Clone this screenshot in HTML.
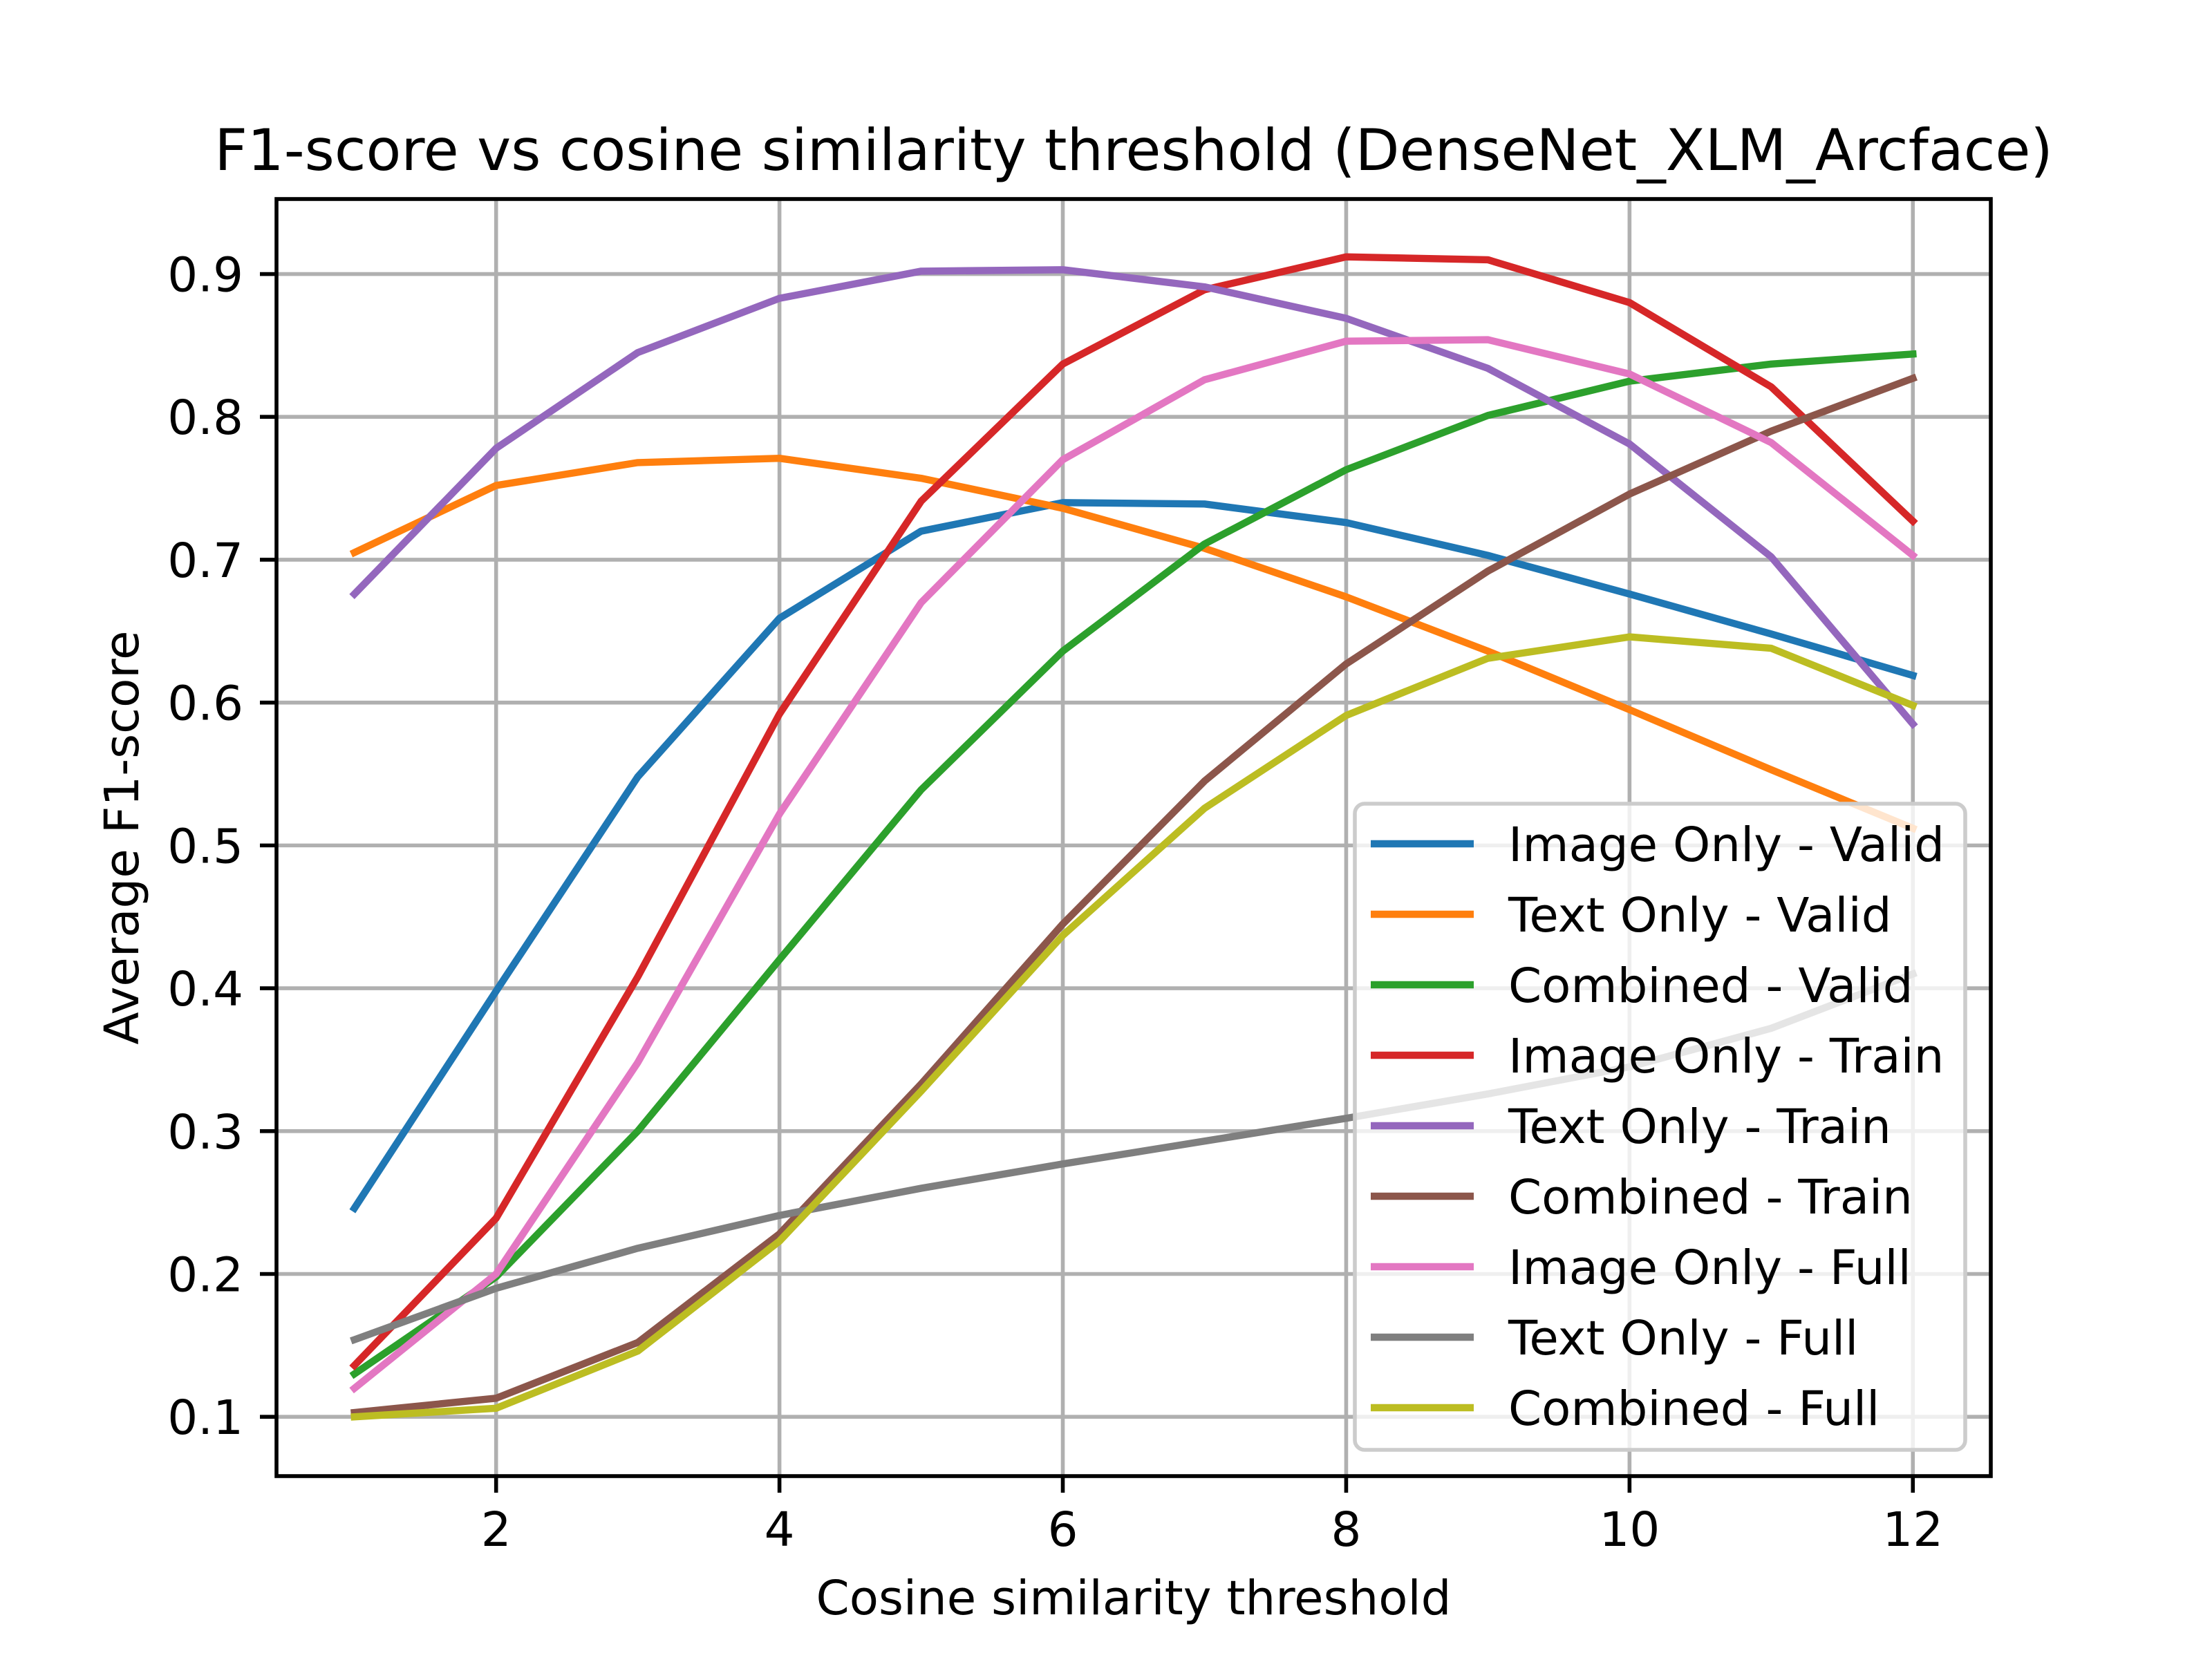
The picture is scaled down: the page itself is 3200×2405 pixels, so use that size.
<!DOCTYPE html>
<html><head><meta charset="utf-8"><style>
html,body{margin:0;padding:0;background:#fff;}
svg text{font-family:"DejaVu Sans","Liberation Sans",sans-serif;fill:#000;}
</style></head><body>
<svg id="chart" width="3200" height="2400" viewBox="0 0 3200 2400" xmlns="http://www.w3.org/2000/svg">
<rect x="0" y="0" width="3200" height="2400" fill="#fff"/>
<g id="grid"></g>
<g id="series"></g>
<rect x="400" y="288" width="2480" height="1848" fill="none" stroke="#000" stroke-width="5.6"/>
<g id="ticks"></g>
<text x="1640" y="246" font-size="83" text-anchor="middle">F1-score vs cosine similarity threshold (DenseNet_XLM_Arcface)</text>
<text x="1640" y="2336" font-size="69" text-anchor="middle">Cosine similarity threshold</text>
<text x="0" y="0" font-size="69" text-anchor="middle" transform="translate(200,1212) rotate(-90)">Average F1-score</text>
<g id="legend"></g>
</svg>
<script>
const xs = [1,2,3,4,5,6,7,8,9,10,11,12];
const xTicks = [2,4,6,8,10,12];
const yTicks = [0.1,0.2,0.3,0.4,0.5,0.6,0.7,0.8,0.9];
const seriesNames = ["Image Only - Valid","Text Only - Valid","Combined - Valid","Image Only - Train","Text Only - Train","Combined - Train","Image Only - Full","Text Only - Full","Combined - Full"];
const seriesColors = ["#1f77b4","#ff7f0e","#2ca02c","#d62728","#9467bd","#8c564b","#e377c2","#7f7f7f","#bcbd22"];
const imageValid = [0.246,0.398,0.548,0.659,0.720,0.740,0.739,0.726,0.703,0.676,0.648,0.619];
const textValid = [0.705,0.752,0.768,0.771,0.757,0.736,0.708,0.674,0.636,0.595,0.553,0.512];
const combinedValid = [0.130,0.198,0.300,0.420,0.539,0.636,0.711,0.763,0.801,0.825,0.837,0.844];
const imageTrain = [0.136,0.239,0.408,0.592,0.741,0.837,0.889,0.912,0.910,0.880,0.821,0.727];
const textTrain = [0.676,0.778,0.845,0.883,0.902,0.903,0.891,0.869,0.834,0.781,0.702,0.585];
const combinedTrain = [0.103,0.113,0.152,0.228,0.333,0.445,0.545,0.627,0.692,0.746,0.790,0.827];
const imageFull = [0.120,0.200,0.348,0.522,0.670,0.770,0.826,0.853,0.854,0.830,0.782,0.703];
const textFull = [0.154,0.190,0.218,0.241,0.260,0.277,0.293,0.309,0.326,0.345,0.372,0.410];
const combinedFull = [0.100,0.106,0.146,0.223,0.328,0.437,0.526,0.591,0.631,0.646,0.638,0.598];
const allSeries = [imageValid,textValid,combinedValid,imageTrain,textTrain,combinedTrain,imageFull,textFull,combinedFull];

const NS = "http://www.w3.org/2000/svg";
const L=400,R=2880,T=288,B=2136;
const XMIN=0.45,XMAX=12.55,YMIN=0.0585,YMAX=0.9525;
function sx(v){return L+(v-XMIN)/(XMAX-XMIN)*(R-L);}
function sy(v){return B-(v-YMIN)/(YMAX-YMIN)*(B-T);}
function mk(tag,attrs,parent){const e=document.createElementNS(NS,tag);for(const k in attrs)e.setAttribute(k,attrs[k]);parent.appendChild(e);return e;}
const grid=document.getElementById('grid'),ticks=document.getElementById('ticks'),ser=document.getElementById('series'),leg=document.getElementById('legend');
xTicks.forEach(t=>{
  const x=sx(t);
  const g=mk('line',{x1:x,x2:x,y1:T,y2:B,stroke:'#b0b0b0','stroke-width':5.6},grid);
  
  
  const tk=mk('line',{x1:x,x2:x,y1:B,y2:B+24,stroke:'#000','stroke-width':5.6},ticks);
  
  
  const tx=mk('text',{x:x,y:2237,'font-size':69,'text-anchor':'middle'},ticks);
  tx.textContent=String(t);
  
  
});
yTicks.forEach(t=>{
  const y=sy(t);
  const g=mk('line',{x1:L,x2:R,y1:y,y2:y,stroke:'#b0b0b0','stroke-width':5.6},grid);
  
  
  const tk=mk('line',{x1:L-24,x2:L,y1:y,y2:y,stroke:'#000','stroke-width':5.6},ticks);
  
  
  const tx=mk('text',{x:L-48,y:y+25,'font-size':69,'text-anchor':'end'},ticks);
  tx.textContent=t.toFixed(1);
  
  
});
allSeries.forEach((vals,i)=>{
  const pts=vals.map((v,j)=>sx(xs[j]).toFixed(1)+','+sy(v).toFixed(1)).join(' ');
  const p=mk('polyline',{points:pts,fill:'none',stroke:seriesColors[i],'stroke-width':10.4,'stroke-linejoin':'round','stroke-linecap':'square'},ser);
  
  
});
const frame=mk('rect',{x:1960,y:1163,width:883,height:935,rx:14,fill:'#fff','fill-opacity':0.8,stroke:'#cccccc','stroke-width':5.6},leg);


seriesNames.forEach((n,i)=>{
  const y=1221+i*102;
  const ln=mk('line',{x1:1983,x2:2132,y1:y,y2:y,stroke:seriesColors[i],'stroke-width':10.4},leg);
  
  
  const tx=mk('text',{x:2182,y:y+25,'font-size':69},leg);
  tx.textContent=n;
  
  
});
</script>
</body></html>
